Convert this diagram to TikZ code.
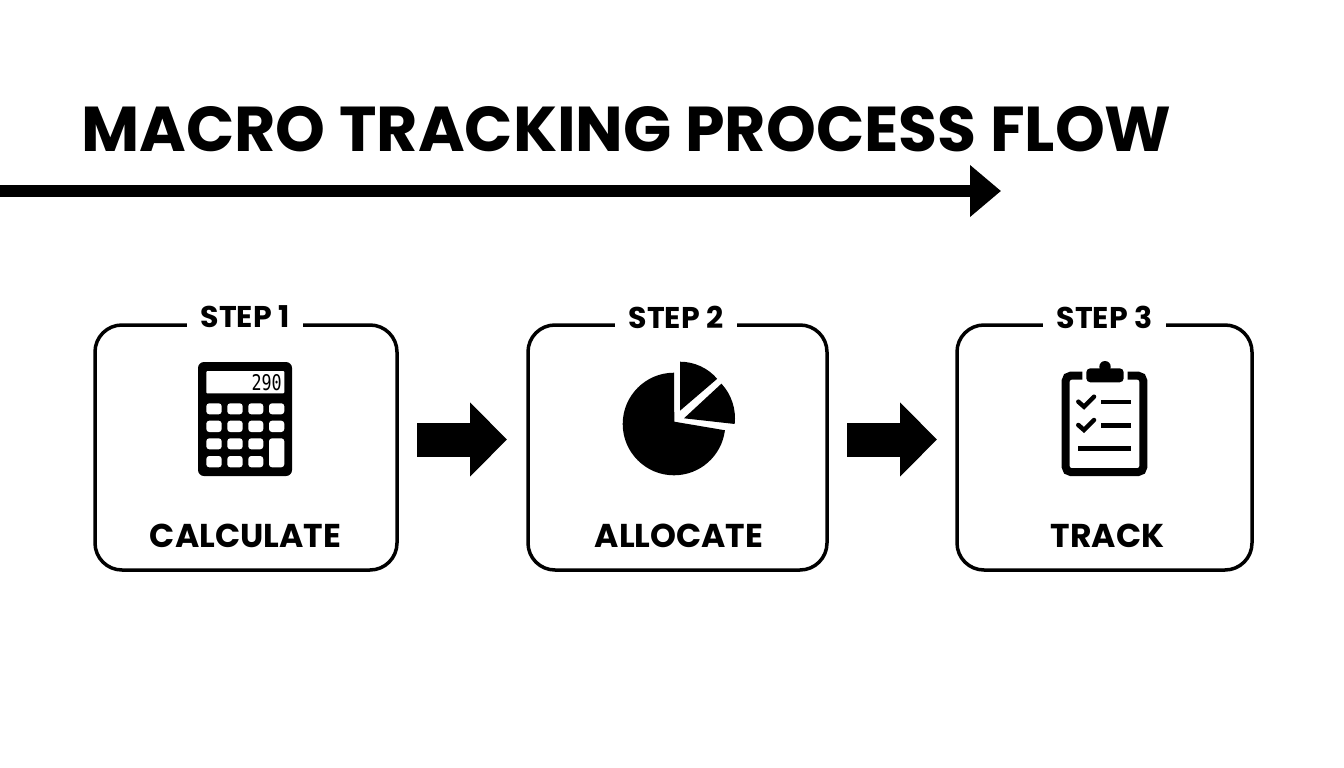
\documentclass[tikz,border=0pt]{standalone}
\usepackage{fontspec}
\setmainfont{Poppins}
\newfontfamily\digitfont{DejaVu Sans Mono}
\usetikzlibrary{arrows.meta}
\tikzset{
  x=1pt,y=1pt,
  stepbox/.style={draw=black,line width=3.5pt,rounded corners=27pt,fill=white,inner sep=0pt},
  steplabel/.style={fill=white,inner ysep=2pt,inner xsep=13.5pt,font=\bfseries\fontsize{30}{30}\selectfont},
  namelabel/.style={font=\bfseries\fontsize{33}{33}\selectfont},
  bigarrow/.style={line width=34pt,-{Triangle[length=37pt,width=72pt]},black},
  key/.style={fill=white,rounded corners=3pt},
  thickline/.style={draw=black,line width=4.5pt},
}
\begin{document}
\begin{tikzpicture}
\useasboundingbox (0,0) rectangle (1344,-768);
% title
\node[anchor=center,font=\bfseries\fontsize{63.4}{63.4}\selectfont] (title) at (626.5,-129.5) {MACRO TRACKING PROCESS FLOW};
\coordinate (ts) at (0,-191);
\coordinate (te) at (1001,-191);
\draw[line width=12pt,-{Triangle[length=31pt,width=50pt]}] (ts) -- (te);
% boxes
\node[stepbox,minimum width=302pt,minimum height=245pt] (box1) at (246,-447.5) {};
\node[stepbox,minimum width=299pt,minimum height=245pt] (box2) at (677.5,-447.5) {};
\node[stepbox,minimum width=295pt,minimum height=245pt] (box3) at (1104.5,-447.5) {};
\node[steplabel] (s1) at (245,-317) {STEP 1};
\node[steplabel] (s2) at (676,-317) {STEP 2};
\node[steplabel] (s3) at (1104.5,-317) {STEP 3};
\node[namelabel] (n1) at (245.5,-536) {CALCULATE};
\node[namelabel] (n2) at (679,-536) {ALLOCATE};
\node[namelabel] (n3) at (1107.5,-536) {TRACK};
% connectors
\coordinate (a1s) at (417,-439.5);
\coordinate (a1e) at (507,-439.5);
\coordinate (a2s) at (847,-439.5);
\coordinate (a2e) at (937,-439.5);
\draw[bigarrow] (a1s) -- (a1e);
\draw[bigarrow] (a2s) -- (a2e);
% calculator
\fill[black,rounded corners=6pt] (198,-362) rectangle (292,-476);
\fill[white,rounded corners=1pt] (206.3,-371) rectangle (284.3,-393.3);
\node[font=\digitfont\fontsize{18}{18}\selectfont,anchor=east,inner sep=0pt,xscale=.93,yscale=1.2] (disp) at (282,-382.5) {290};
\foreach \xa/\xb in {206.3/221.7,227.3/242.7,248.3/263.3}
  \foreach \ya/\yb in {403.3/414.3,420.7/432,438.3/449.3,456/467.3}
    \fill[key] (\xa,-\ya) rectangle (\xb,-\yb);
\fill[key] (269,-403.3) rectangle (284.3,-414.3);
\fill[key] (269,-420.7) rectangle (284.3,-432);
\fill[key] (269,-438.3) rectangle (284.3,-467.3);
% pie
\fill (674.3,-421.7) -- (674,-372.7) arc[start angle=90,end angle=353,radius=51.3] -- cycle;
\fill (680,-410.7) -- ++(0,49) arc[start angle=90,end angle=40.6,radius=49] -- cycle;
\fill (684,-418.3) -- ++(42.8:51) arc[start angle=42.8,end angle=-6.4,radius=51] -- cycle;
% clipboard
\draw[line width=8pt,rounded corners=5pt] (1082.3,-375.7) -- (1065.7,-375.7) -- (1065.7,-472) -- (1143.3,-472) -- (1143.3,-375.7) -- (1127.7,-375.7);
\fill[rounded corners=4pt] (1086.3,-368.3) rectangle (1123.7,-382.3);
\fill (1105,-366.7) circle[radius=5.7];
\draw[thickline] (1101,-402) -- (1130.7,-402);
\draw[thickline] (1101,-425.3) -- (1130.7,-425.3);
\draw[thickline] (1078.3,-448.3) -- (1130.7,-448.3);
\draw[thickline,line cap=round] (1078.3,-401.7) -- (1084,-406.7) -- (1094,-396.7);
\draw[thickline,line cap=round] (1078.3,-425) -- (1084,-430) -- (1094,-420);
\end{tikzpicture}
\end{document}
